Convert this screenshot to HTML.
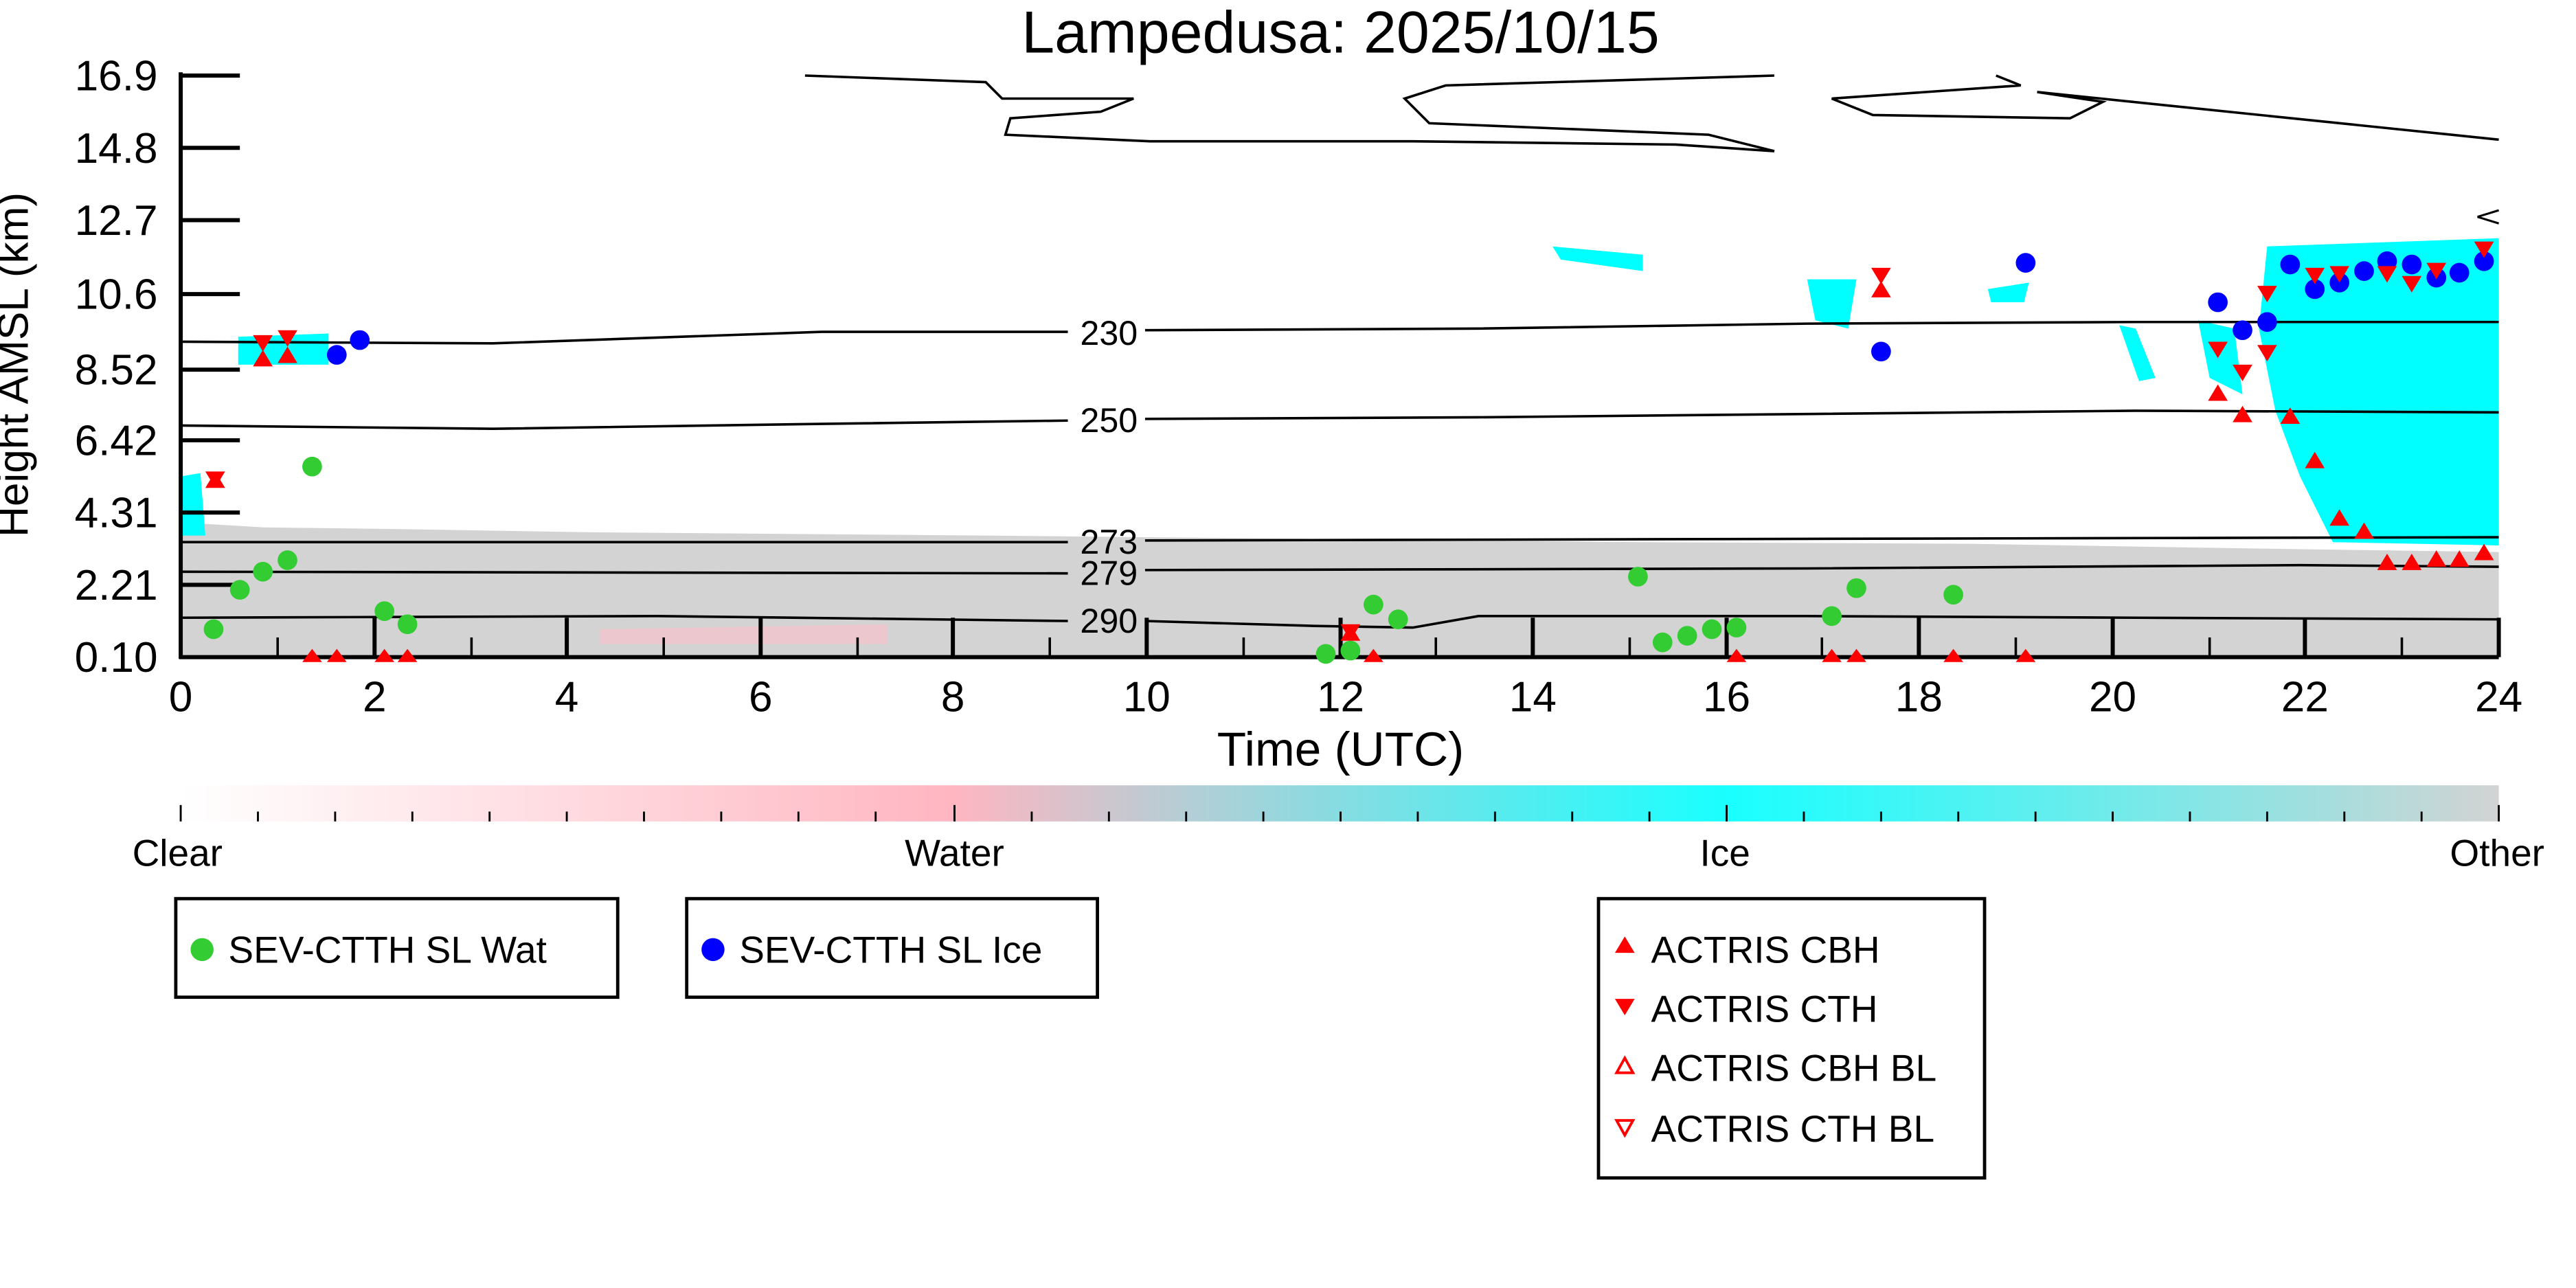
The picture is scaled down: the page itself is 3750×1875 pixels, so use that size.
<!DOCTYPE html>
<html><head><meta charset="utf-8"><style>
html,body{margin:0;padding:0;background:#fff;width:3750px;height:1875px;overflow:hidden}
svg{display:block}
text{font-family:"Liberation Sans",sans-serif}
</style></head><body>
<svg width="3750" height="1875" viewBox="0 0 1568 784" xmlns="http://www.w3.org/2000/svg">
<defs>
<linearGradient id="cb" x1="0" x2="1" y1="0" y2="0">
<stop offset="0" stop-color="#ffffff"/>
<stop offset="0.333" stop-color="#ffb6c1"/>
<stop offset="0.667" stop-color="#00ffff" stop-opacity="0.9"/>
<stop offset="1" stop-color="#d3d3d3"/>
</linearGradient>
</defs>
<text x="816" y="32" font-size="36" text-anchor="middle">Lampedusa: 2025/10/15</text>

<path d="M110,318 L160,321 L240,322 L360,324 L600,326 L800,328 L1000,330 L1200,331 L1380,334 L1521,336 L1521,400 L110,400 Z" fill="#d3d3d3"/>
<path d="M365,383 L540,380 L540,392 L365,392Z" fill="#ffc0cb" opacity="0.6"/>
<path d="M1380,150 L1521,145 L1521,332 L1420,330 L1400,290 L1385,250 L1375,200 Z" fill="#00ffff"/>
<path d="M1338,195 L1360,200 L1365,240 L1345,230Z" fill="#00ffff"/>
<path d="M145,205 L200,203 L200,222 L145,222Z" fill="#00ffff"/>
<path d="M110,290 L122,288 L125,326 L110,326Z" fill="#00ffff"/>
<path d="M945,150 L1000,155 L1000,165 L950,158Z" fill="#00ffff"/>
<path d="M1100,170 L1130,170 L1125,200 L1105,195Z" fill="#00ffff"/>
<path d="M1290,198 L1300,200 L1312,230 L1302,232Z" fill="#00ffff"/>
<path d="M1210,176 L1235,172 L1232,184 L1212,184Z" fill="#00ffff"/>

<path d="M490,46 L600,50 L610,60 L690,60 L670,68 L615,72 L612,82 L700,86 L860,86 L1020,88 L1080,92 L1040,82 L870,75 L855,60 L880,52 L1080,46 M1215,46 L1230,52 L1115,60 L1140,70 L1260,72 L1280,62 L1240,56 L1521,85" fill="none" stroke="#000" stroke-width="1.5"/>
<path d="M1508,132 L1521,128 M1508,132 L1521,136" stroke="#000" stroke-width="1.3"/>

<g fill="none" stroke="#000" stroke-width="1.5">
<path d="M110,208 L300,209 L500,202 L650,202 M697,201 L900,200 L1100,197 L1300,196 L1521,196"/>
<path d="M110,259 L300,261 L500,258 L650,256 M697,255 L900,254 L1100,252 L1300,250 L1521,251"/>
<path d="M110,330 L650,330 M697,329 L1100,328 L1521,327"/>
<path d="M110,348 L650,349 M697,347 L1100,346 L1400,344 L1521,345"/>
<path d="M110,376 L400,375 L650,378 M697,378 L800,381 L860,382 L900,375 L1100,375 L1300,376 L1521,377"/>
</g>
<g font-size="21" text-anchor="middle">
<text x="675" y="210">230</text><text x="675" y="263">250</text>
<text x="675" y="337">273</text><text x="675" y="356">279</text><text x="675" y="385">290</text>
</g>

<g stroke="#000" stroke-width="2.5" fill="none">
<line x1="110" y1="44" x2="110" y2="401"/>
<line x1="109" y1="400" x2="1521" y2="400"/>
</g>
<g stroke="#000" stroke-width="2.5">
<line x1="110" y1="46" x2="146" y2="46"/><line x1="110" y1="90" x2="146" y2="90"/>
<line x1="110" y1="134" x2="146" y2="134"/><line x1="110" y1="179" x2="146" y2="179"/>
<line x1="110" y1="225" x2="146" y2="225"/><line x1="110" y1="268" x2="146" y2="268"/>
<line x1="110" y1="312" x2="146" y2="312"/><line x1="110" y1="356" x2="146" y2="356"/>
<line x1="228" y1="376" x2="228" y2="400"/><line x1="345" y1="376" x2="345" y2="400"/>
<line x1="463" y1="376" x2="463" y2="400"/><line x1="580" y1="376" x2="580" y2="400"/>
<line x1="698" y1="376" x2="698" y2="400"/><line x1="816" y1="376" x2="816" y2="400"/>
<line x1="933" y1="376" x2="933" y2="400"/><line x1="1051" y1="376" x2="1051" y2="400"/>
<line x1="1168" y1="376" x2="1168" y2="400"/><line x1="1286" y1="376" x2="1286" y2="400"/>
<line x1="1403" y1="376" x2="1403" y2="400"/><line x1="1521" y1="376" x2="1521" y2="400"/>
</g>
<g stroke="#000" stroke-width="1.5">
<line x1="169" y1="388" x2="169" y2="400"/><line x1="287" y1="388" x2="287" y2="400"/>
<line x1="404" y1="388" x2="404" y2="400"/><line x1="522" y1="388" x2="522" y2="400"/>
<line x1="639" y1="388" x2="639" y2="400"/><line x1="757" y1="388" x2="757" y2="400"/>
<line x1="874" y1="388" x2="874" y2="400"/><line x1="992" y1="388" x2="992" y2="400"/>
<line x1="1109" y1="388" x2="1109" y2="400"/><line x1="1227" y1="388" x2="1227" y2="400"/>
<line x1="1345" y1="388" x2="1345" y2="400"/><line x1="1462" y1="388" x2="1462" y2="400"/>
</g>
<g font-size="26" text-anchor="end">
<text x="96" y="55">16.9</text><text x="96" y="99">14.8</text><text x="96" y="143">12.7</text>
<text x="96" y="188">10.6</text><text x="96" y="234">8.52</text><text x="96" y="277">6.42</text>
<text x="96" y="321">4.31</text><text x="96" y="365">2.21</text><text x="96" y="409">0.10</text>
</g>
<g font-size="26" text-anchor="middle">
<text x="110" y="433">0</text><text x="228" y="433">2</text><text x="345" y="433">4</text>
<text x="463" y="433">6</text><text x="580" y="433">8</text><text x="698" y="433">10</text>
<text x="816" y="433">12</text><text x="933" y="433">14</text><text x="1051" y="433">16</text>
<text x="1168" y="433">18</text><text x="1286" y="433">20</text><text x="1403" y="433">22</text>
<text x="1521" y="433">24</text>
<text x="816" y="466" font-size="29">Time (UTC)</text>
</g>
<text transform="translate(17,222) rotate(-90)" font-size="26" text-anchor="middle">Height AMSL (km)</text>

<g fill="#33cc33">
<circle cx="130" cy="383" r="6"/><circle cx="146" cy="359" r="6"/><circle cx="160" cy="348" r="6"/>
<circle cx="175" cy="341" r="6"/><circle cx="190" cy="284" r="6"/><circle cx="234" cy="372" r="6"/>
<circle cx="248" cy="380" r="6"/><circle cx="807" cy="398" r="6"/><circle cx="836" cy="368" r="6"/>
<circle cx="851" cy="377" r="6"/><circle cx="997" cy="351" r="6"/><circle cx="1012" cy="391" r="6"/>
<circle cx="1027" cy="387" r="6"/><circle cx="1042" cy="383" r="6"/><circle cx="1057" cy="382" r="6"/>
<circle cx="1115" cy="375" r="6"/><circle cx="1130" cy="358" r="6"/><circle cx="1189" cy="362" r="6"/>
<circle cx="822" cy="396" r="6"/>
</g>
<g fill="#0000ff">
<circle cx="205" cy="216" r="6"/><circle cx="219" cy="207" r="6"/><circle cx="1145" cy="214" r="6"/>
<circle cx="1233" cy="160" r="6"/><circle cx="1350" cy="184" r="6"/><circle cx="1365" cy="201" r="6"/>
<circle cx="1380" cy="196" r="6"/><circle cx="1394" cy="161" r="6"/><circle cx="1409" cy="176" r="6"/>
<circle cx="1424" cy="172" r="6"/><circle cx="1439" cy="165" r="6"/><circle cx="1453" cy="159" r="6"/>
<circle cx="1468" cy="161" r="6"/><circle cx="1483" cy="169" r="6"/><circle cx="1497" cy="166" r="6"/>
<circle cx="1512" cy="159" r="6"/>
</g>
<g fill="#ff0000">
<path d="M131,287l6,10h-12z M160,213l6,10h-12z M175,211l6,10h-12z M1145,171l6,10h-12z M822,380l6,10h-12z
M1350,234l6,10h-12z M1365,247l6,10h-12z M1394,248l6,10h-12z M1409,275l6,10h-12z M1424,310l6,10h-12z
M1439,318l6,10h-12z M1453,337l6,10h-12z M1468,337l6,10h-12z M1483,335l6,10h-12z M1497,335l6,10h-12z M1512,331l6,10h-12z
M190,395l6,8h-12z M205,395l6,8h-12z M234,395l6,8h-12z M248,395l6,8h-12z M836,395l6,8h-12z M1115,395l6,8h-12z M1130,395l6,8h-12z M1189,395l6,8h-12z M1233,395l6,8h-12z M1057,395l6,8h-12z"/>
<path d="M125,287h12l-6,10z M154,204h12l-6,10z M169,201h12l-6,10z M1139,163h12l-6,10z M816,380h12l-6,10z
M1344,208h12l-6,10z M1359,222h12l-6,10z M1374,174h12l-6,10z M1374,210h12l-6,10z M1403,163h12l-6,10z
M1418,162h12l-6,10z M1447,162h12l-6,10z M1462,168h12l-6,10z M1477,160h12l-6,10z M1506,147h12l-6,10z"/>
</g>

<rect x="110" y="478" width="1411" height="22" fill="url(#cb)"/>
<g stroke="#000" stroke-width="1.2">
<line x1="110" y1="490" x2="110" y2="500"/><line x1="157" y1="494" x2="157" y2="500"/><line x1="204" y1="494" x2="204" y2="500"/>
<line x1="251" y1="494" x2="251" y2="500"/><line x1="298" y1="494" x2="298" y2="500"/><line x1="345" y1="494" x2="345" y2="500"/>
<line x1="392" y1="494" x2="392" y2="500"/><line x1="439" y1="494" x2="439" y2="500"/><line x1="486" y1="494" x2="486" y2="500"/>
<line x1="533" y1="494" x2="533" y2="500"/><line x1="581" y1="490" x2="581" y2="500"/><line x1="628" y1="494" x2="628" y2="500"/>
<line x1="675" y1="494" x2="675" y2="500"/><line x1="722" y1="494" x2="722" y2="500"/><line x1="769" y1="494" x2="769" y2="500"/>
<line x1="816" y1="494" x2="816" y2="500"/><line x1="863" y1="494" x2="863" y2="500"/><line x1="910" y1="494" x2="910" y2="500"/>
<line x1="957" y1="494" x2="957" y2="500"/><line x1="1004" y1="494" x2="1004" y2="500"/><line x1="1051" y1="490" x2="1051" y2="500"/>
<line x1="1098" y1="494" x2="1098" y2="500"/><line x1="1145" y1="494" x2="1145" y2="500"/><line x1="1192" y1="494" x2="1192" y2="500"/>
<line x1="1239" y1="494" x2="1239" y2="500"/><line x1="1286" y1="494" x2="1286" y2="500"/><line x1="1333" y1="494" x2="1333" y2="500"/>
<line x1="1380" y1="494" x2="1380" y2="500"/><line x1="1427" y1="494" x2="1427" y2="500"/><line x1="1474" y1="494" x2="1474" y2="500"/>
<line x1="1521" y1="490" x2="1521" y2="500"/>
</g>
<g font-size="23" text-anchor="middle">
<text x="108" y="527">Clear</text><text x="581" y="527">Water</text><text x="1050" y="527">Ice</text><text x="1520" y="527">Other</text>
</g>

<g fill="#fff" stroke="#000" stroke-width="2">
<rect x="107" y="547" width="269" height="60"/>
<rect x="418" y="547" width="250" height="60"/>
<rect x="973" y="547" width="235" height="170"/>
</g>
<g font-size="23">
<circle cx="123" cy="578" r="7" fill="#33cc33"/><text x="139" y="586">SEV-CTTH SL Wat</text>
<circle cx="434" cy="578" r="7" fill="#0000ff"/><text x="450" y="586">SEV-CTTH SL Ice</text>
<path d="M989,570l6,10h-12z" fill="#ff0000"/><text x="1005" y="586">ACTRIS CBH</text>
<path d="M983,608h12l-6,10z" fill="#ff0000"/><text x="1005" y="622">ACTRIS CTH</text>
<path d="M989,644l5,9h-10z" fill="none" stroke="#ff0000" stroke-width="1.6"/><text x="1005" y="658">ACTRIS CBH BL</text>
<path d="M984,682h10l-5,9z" fill="none" stroke="#ff0000" stroke-width="1.6"/><text x="1005" y="695">ACTRIS CTH BL</text>
</g>
</svg>
</body></html>
